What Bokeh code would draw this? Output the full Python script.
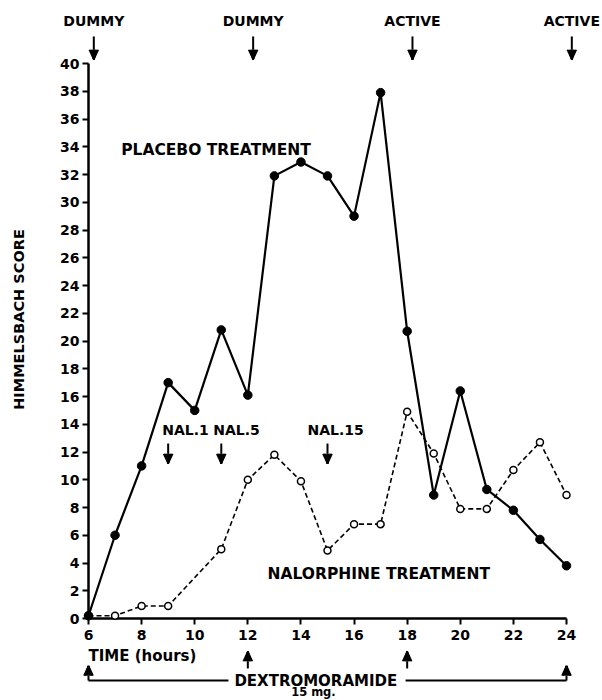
import math
from bokeh.plotting import figure
from bokeh.models import Range1d, FixedTicker
from bokeh.core.properties import value
from bokeh.embed import file_html
from bokeh.resources import INLINE

# ---- data ----
placebo_hours = [6, 7, 8, 9, 10, 11, 12, 13, 14, 15, 16, 17, 18, 19, 20, 21, 22, 23, 24]
placebo_score = [0.2, 6, 11, 17, 15, 20.8, 16.1, 31.9, 32.9, 31.9, 29, 37.9, 20.7, 8.9, 16.4, 9.3, 7.8, 5.7, 3.8]

nalorphine_hours = [6, 7, 8, 9, 11, 12, 13, 14, 15, 16, 17, 18, 19, 20, 21, 22, 23, 24]
nalorphine_score = [0.2, 0.2, 0.9, 0.9, 5, 10, 11.8, 9.9, 4.9, 6.8, 6.8, 14.9, 11.9, 7.9, 7.9, 10.7, 12.7, 8.9]

x_ticks = [6, 8, 10, 12, 14, 16, 18, 20, 22, 24]
y_ticks = list(range(0, 41, 2))

dose_hours = [6, 12, 18, 24]
dose_labels = ["DUMMY", "DUMMY", "ACTIVE", "ACTIVE"]

nal_hours = [9, 11, 15]
nal_labels = ["NAL.1", "NAL.5", "NAL.15"]

dextro_mid_hours = [12, 18]
dextro_end_hours = [6, 24]

FONT = value("DejaVu Sans")

p = figure(width=602, height=700,
           x_range=Range1d(6, 24), y_range=Range1d(0, 40),
           output_backend="svg", toolbar_location=None,
           min_border_left=88, min_border_right=36,
           min_border_top=63, min_border_bottom=82)
p.title.visible = False
p.grid.visible = False
p.outline_line_color = None
p.background_fill_color = "white"
p.border_fill_color = "white"

p.xaxis.ticker = FixedTicker(ticks=x_ticks)
p.yaxis.ticker = FixedTicker(ticks=y_ticks)
for ax in (p.xaxis, p.yaxis):
    ax.axis_line_width = 2.5
    ax.axis_line_color = "black"
    ax.major_tick_line_width = 2
    ax.major_tick_line_color = "black"
    ax.major_tick_out = 6
    ax.major_tick_in = 0
    ax.minor_tick_line_color = None
    ax.major_label_text_font = "DejaVu Sans"
    ax.major_label_text_font_style = "bold"
    ax.major_label_text_font_size = "14px"
    ax.major_label_text_color = "black"
p.yaxis.major_label_standoff = 3
p.xaxis.major_label_standoff = 5

# ---- series ----
p.line(nalorphine_hours, nalorphine_score, line_color="black", line_width=1.6,
       line_dash="5 3", level="overlay")
p.scatter(nalorphine_hours, nalorphine_score, size=7, marker="circle",
          fill_color="white", line_color="black", line_width=1.5, level="overlay")
p.line(placebo_hours, placebo_score, line_color="black", line_width=2.2, level="overlay")
p.scatter(placebo_hours, placebo_score, size=8.5, marker="circle",
          fill_color="black", line_color="black", level="overlay")

# ---- helpers ----
def txt(x, y, t, size, align="center", baseline="middle", style="bold", angle=0.0, x_offset=0):
    p.text(x=x, y=y, text=t, text_font=FONT, text_font_size=size,
           text_font_style=style, text_align=align, text_baseline=baseline,
           text_color="black", angle=angle, x_offset=x_offset, level="overlay")

HEAD_HALF_W = 0.17   # hours (about 4.5 px)
HEAD_LEN = 0.7       # score units (about 10 px)
FAN = [-1.0, -0.75, -0.5, -0.25, 0.0, 0.25, 0.5, 0.75, 1.0]

def arrows(xs, y_tail, y_tip):
    sgn = 1 if y_tip < y_tail else -1      # +1: pointing down
    base = y_tip + sgn * HEAD_LEN
    n = len(xs)
    p.segment(x0=xs, y0=[y_tail] * n, x1=xs, y1=[base] * n,
              line_color="black", line_width=2, level="overlay")
    x0, y0, x1, y1 = [], [], [], []
    for x in xs:
        for f in FAN:
            x0.append(x + f * HEAD_HALF_W)
            y0.append(base)
            x1.append(x)
            y1.append(y_tip)
    p.segment(x0=x0, y0=y0, x1=x1, y1=y1, line_color="black", line_width=1.6,
              level="overlay")

txt([10.8], [33.8], ["PLACEBO TREATMENT"], "15.5px")
txt([16.93], [3.24], ["NALORPHINE TREATMENT"], "15.5px")
txt([3.4], [21.55], ["HIMMELSBACH SCORE"], "14.5px", angle=math.pi / 2)

# top dose markers
TOP_SHIFT = 0.2
top_x = [h + TOP_SHIFT for h in dose_hours]
txt(top_x, [43.05] * 4, dose_labels, "14px")
arrows(top_x, 41.95, 40.29)

# nalorphine doses
txt(nal_hours, [13.55] * 3, nal_labels, "14px", align="left", x_offset=[-6, -8, -20])
arrows(nal_hours, 12.61, 11.17)

# bottom annotations
txt([6], [-2.67], ["TIME (hours)"], "15px", align="left")
arrows(dextro_mid_hours, -3.6, -2.38)
BR_Y = -4.47
arrows(dextro_end_hours, BR_Y, -3.42)
p.segment(x0=[6, 17.94], y0=[BR_Y, BR_Y], x1=[11.27, 24], y1=[BR_Y, BR_Y],
          line_color="black", line_width=1.8, level="overlay")
txt([14.56], [BR_Y], ["DEXTROMORAMIDE"], "15px")
txt([14.47], [-5.3], ["15 mg."], "11.5px")

open("out.html", "w").write(file_html(p, INLINE))
